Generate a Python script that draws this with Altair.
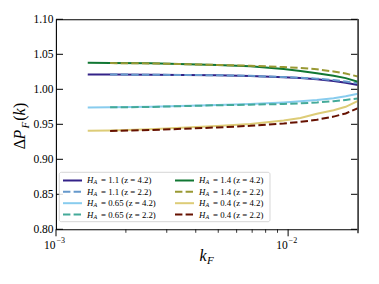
import altair as alt
import pandas as pd

# ---- data ----
k_z42 = [0.00137, 0.00171, 0.00255, 0.00494, 0.00687, 0.00957, 0.0113, 0.0133, 0.0157, 0.0177, 0.0200]
k_z22 = [0.00171, 0.00255, 0.00494, 0.00687, 0.00957, 0.0113, 0.0133, 0.0157, 0.0177, 0.0200]

ha_11_z42 = [1.0212, 1.0211, 1.0208, 1.0200, 1.0190, 1.0172, 1.0160, 1.0143, 1.0120, 1.0095, 1.0060]
ha_11_z22 = [1.0211, 1.0208, 1.0201, 1.0192, 1.0175, 1.0165, 1.0152, 1.0133, 1.0112, 1.0086]
ha_065_z42 = [0.9740, 0.9742, 0.9750, 0.9776, 0.9790, 0.9812, 0.9828, 0.9847, 0.9873, 0.9900, 0.9935]
ha_065_z22 = [0.9742, 0.9748, 0.9772, 0.9780, 0.9790, 0.9800, 0.9812, 0.9830, 0.9848, 0.9870]
ha_14_z42 = [1.0378, 1.0376, 1.0371, 1.0347, 1.0330, 1.0290, 1.0262, 1.0229, 1.0195, 1.0160, 1.0108]
ha_14_z22 = [1.0374, 1.0370, 1.0348, 1.0337, 1.0318, 1.0305, 1.0286, 1.0255, 1.0225, 1.0182]
ha_04_z42 = [0.9408, 0.9412, 0.9430, 0.9476, 0.9505, 0.9555, 0.9590, 0.9650, 0.9700, 0.9750, 0.9835]
ha_04_z22 = [0.9405, 0.9418, 0.9455, 0.9478, 0.9512, 0.9535, 0.9565, 0.9610, 0.9655, 0.9730]

ha_labels = ["1.1", "1.1", "0.65", "0.65", "1.4", "1.4", "0.4", "0.4"]
z_labels = ["4.2", "2.2", "4.2", "2.2", "4.2", "2.2", "4.2", "2.2"]
series_vals = [ha_11_z42, ha_11_z22, ha_065_z42, ha_065_z22, ha_14_z42, ha_14_z22, ha_04_z42, ha_04_z22]
colors = ["#332288", "#6699CC", "#88CCEE", "#44AA99", "#117733", "#999933", "#DDCC77", "#661100"]
dashed = [False, True, False, True, False, True, False, True]

y_ticks = [0.80, 0.85, 0.90, 0.95, 1.00, 1.05, 1.10]
x_major = [0.001, 0.01]
x_major_base = ["10", "10"]
x_major_exp = ["−3", "−2"]
x_minor = [0.002, 0.003, 0.004, 0.005, 0.006, 0.007, 0.008, 0.009, 0.02]

W, H = 302, 210
FONT = "Liberation Serif"
DASH = [7.4, 3.2]

xscale = alt.Scale(type="log", domain=[0.001, 0.02], nice=False)
yscale = alt.Scale(domain=[0.80, 1.10], nice=False, zero=False)
xaxis = alt.Axis(values=x_major, ticks=False, domain=False, grid=False, title=None, labels=False)
yaxis = alt.Axis(values=y_ticks, format=".2f", ticks=False, domain=False, grid=False, title=None,
                 labelPadding=3, labelFont=FONT, labelFontSize=11.5, labelColor="black")

layers = []
for i, vals in enumerate(series_vals):
    ks = k_z42 if z_labels[i] == "4.2" else k_z22
    df = pd.DataFrame({"k": ks, "v": vals})
    kw = dict(strokeWidth=2, color=colors[i], clip=True)
    if dashed[i]:
        kw["strokeDash"] = DASH
    layers.append(alt.Chart(df).mark_line(**kw).encode(
        x=alt.X("k:Q", scale=xscale, axis=xaxis),
        y=alt.Y("v:Q", scale=yscale, axis=yaxis)))

# ticks
ydf = pd.DataFrame({"v": y_ticks})
layers.append(alt.Chart(ydf).mark_rule(color="black", strokeWidth=1).encode(
    y=alt.Y("v:Q", scale=yscale, axis=yaxis), x=alt.value(0), x2=alt.value(7)))
layers.append(alt.Chart(ydf).mark_rule(color="black", strokeWidth=1).encode(
    y=alt.Y("v:Q", scale=yscale, axis=yaxis), x=alt.value(W - 7), x2=alt.value(W)))
xmaj = pd.DataFrame({"k": x_major, "base": x_major_base, "exp": x_major_exp})
layers.append(alt.Chart(xmaj).mark_rule(color="black", strokeWidth=1).encode(
    x=alt.X("k:Q", scale=xscale, axis=xaxis), y=alt.value(H), y2=alt.value(H + 7)))
layers.append(alt.Chart(pd.DataFrame({"k": x_minor})).mark_rule(color="black", strokeWidth=0.8).encode(
    x=alt.X("k:Q", scale=xscale, axis=xaxis), y=alt.value(H), y2=alt.value(H + 3.5)))
# x tick labels 10^n
layers.append(alt.Chart(xmaj).mark_text(font=FONT, fontSize=11.5, align="right", baseline="alphabetic",
                                        color="black", dx=-0.5).encode(
    x=alt.X("k:Q", scale=xscale, axis=xaxis), y=alt.value(H + 20), text="base:N"))
layers.append(alt.Chart(xmaj).mark_text(font=FONT, fontSize=8, align="left", baseline="alphabetic",
                                        color="black", dx=0.5).encode(
    x=alt.X("k:Q", scale=xscale, axis=xaxis), y=alt.value(H + 14), text="exp:N"))
# right spine (grey, as in reference)
layers.append(alt.Chart(pd.DataFrame({"a": [0]})).mark_rule(color="#555555", strokeWidth=1.6).encode(
    x=alt.value(W), y=alt.value(0), y2=alt.value(H + 4)))

# custom legend
leg_rows = []
for i in range(8):
    col = i // 4
    row = i % 4
    x0 = 7 + col * 112
    yy = 161.2 + row * 11.35
    leg_rows.append({"x0": x0, "x1": x0 + 19, "lx": x0 + 24, "ly": yy,
                     "color": colors[i], "dash": dashed[i],
                     "rest": f"= {ha_labels[i]} (z = {z_labels[i]})"})
ldf = pd.DataFrame(leg_rows)

layers.append(alt.Chart(pd.DataFrame({"a": [0]})).mark_rect(
    fill="white", fillOpacity=0.85, stroke="#cccccc", strokeWidth=0.8, cornerRadius=2).encode(
    x=alt.value(3.3), x2=alt.value(214), y=alt.value(153), y2=alt.value(202.4)))
layers.append(alt.Chart(ldf).transform_filter("!datum.dash").mark_rule(strokeWidth=2).encode(
    x=alt.X("x0:Q", scale=None, axis=None), x2="x1:Q",
    y=alt.Y("ly:Q", scale=None, axis=None),
    color=alt.Color("color:N", scale=None, legend=None)))
layers.append(alt.Chart(ldf).transform_filter("datum.dash").mark_rule(strokeWidth=2, strokeDash=DASH).encode(
    x=alt.X("x0:Q", scale=None, axis=None), x2="x1:Q",
    y=alt.Y("ly:Q", scale=None, axis=None),
    color=alt.Color("color:N", scale=None, legend=None)))
layers.append(alt.Chart(ldf).mark_text(font=FONT, fontSize=8.8, fontStyle="italic", align="left",
                                       baseline="middle", color="black").encode(
    x=alt.X("lx:Q", scale=None, axis=None), y=alt.Y("ly:Q", scale=None, axis=None), text=alt.value("H")))
layers.append(alt.Chart(ldf).mark_text(font=FONT, fontSize=6, fontStyle="italic", align="left",
                                       baseline="middle", color="black", dx=6.5, dy=2).encode(
    x=alt.X("lx:Q", scale=None, axis=None), y=alt.Y("ly:Q", scale=None, axis=None), text=alt.value("A")))
layers.append(alt.Chart(ldf).mark_text(font=FONT, fontSize=8.8, align="left",
                                       baseline="middle", color="black", dx=14).encode(
    x=alt.X("lx:Q", scale=None, axis=None), y=alt.Y("ly:Q", scale=None, axis=None), text="rest:N"))

# y-axis title  ΔP_F(k)  (rotated, built from pieces)
yt_up = pd.DataFrame({"t": ["Δ", "(", ")"], "py": [130, 101.5, 88.6], "px": [-31, -31, -31]})
yt_it = pd.DataFrame({"t": ["P", "k"], "py": [120.2, 96.1], "px": [-31, -31]})
yt_sub = pd.DataFrame({"t": ["F"], "py": [109.2], "px": [-27.5]})
for d, size, style in [(yt_up, 16, "normal"), (yt_it, 16, "italic"), (yt_sub, 11, "italic")]:
    layers.append(alt.Chart(d).mark_text(font=FONT, fontSize=size, fontStyle=style, align="left",
                                         baseline="alphabetic", angle=270, color="black").encode(
        x=alt.X("px:Q", scale=None, axis=None), y=alt.Y("py:Q", scale=None, axis=None), text="t:N"))

# x-axis title k_F
one = pd.DataFrame({"a": [0]})
layers.append(alt.Chart(one).mark_text(font=FONT, fontSize=16, fontStyle="italic", align="left",
                                       baseline="alphabetic", color="black").encode(
    x=alt.value(143.5), y=alt.value(242), text=alt.value("k")))
layers.append(alt.Chart(one).mark_text(font=FONT, fontSize=11, fontStyle="italic", align="left",
                                       baseline="alphabetic", color="black").encode(
    x=alt.value(151), y=alt.value(245), text=alt.value("F")))

chart = alt.layer(*layers).properties(
    width=W, height=H,
    autosize=alt.AutoSizeParams(type="none"),
    padding={"left": 48, "top": 11.3, "right": 13, "bottom": 46},
).configure_view(stroke="black", strokeWidth=1.1)

chart.save("out.html", embed_options={"renderer": "svg", "actions": False})
